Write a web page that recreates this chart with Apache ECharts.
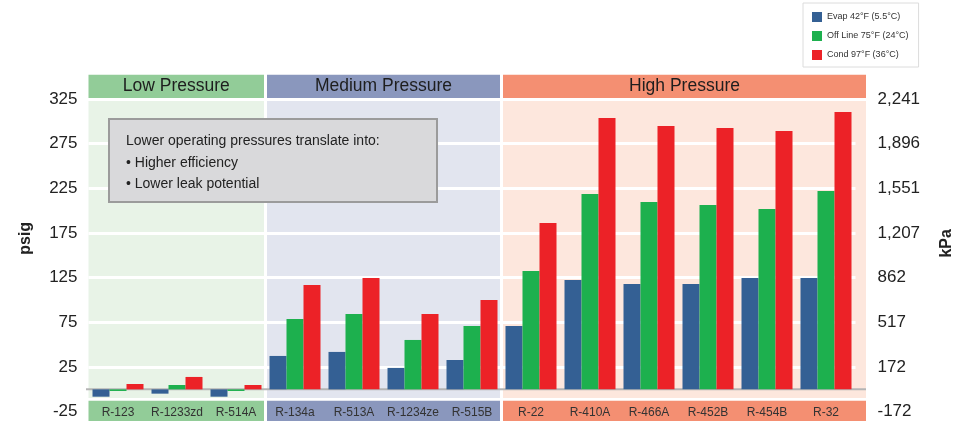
<!DOCTYPE html>
<html>
<head>
<meta charset="utf-8">
<title>Refrigerant operating pressures</title>
<script src="https://cdn.jsdelivr.net/npm/echarts@6/dist/echarts.min.js"></script>
<style>
  html, body { margin: 0; padding: 0; background: #ffffff; }
  #chart { width: 980px; height: 425px; }
</style>
</head>
<body>
<div id="chart"></div>
<script>
// Refrigerants, grouped by pressure class
const categories = ['R-123', 'R-1233zd', 'R-514A', 'R-134a', 'R-513A', 'R-1234ze', 'R-515B',
                    'R-22', 'R-410A', 'R-466A', 'R-452B', 'R-454B', 'R-32'];

// Saturation pressures, psig
const evap    = [-8.2, -4.8, -8.2, 37.4, 41.9, 24.0, 32.9, 71.0, 122.5, 118.0, 118.0, 124.7, 124.7];
const offLine = [-1.8, 4.9, -1.8, 78.8, 84.4, 55.3, 71.0, 132.5, 218.7, 209.8, 206.4, 201.9, 222.0];
const cond    = [6.0, 13.9, 4.9, 116.9, 124.7, 84.4, 100.0, 186.3, 303.8, 294.8, 292.6, 289.2, 310.5];

const seriesNames = ['Evap 42°F (5.5°C)', 'Off Line 75°F (24°C)', 'Cond 97°F (36°C)'];

// Axis ticks: psig on the left, the same levels in kPa on the right
const psigTicks = [-25, 25, 75, 125, 175, 225, 275, 325];
const kpaTicks  = ['-172', '172', '517', '862', '1,207', '1,551', '1,896', '2,241'];

// Pressure classes (first and last category index)
const groupNames = ['Low Pressure', 'Medium Pressure', 'High Pressure'];
const groupFrom  = [0, 3, 7];
const groupTo    = [2, 6, 12];

const noteLines = ['Lower operating pressures translate into:', '• Higher efficiency', '• Lower leak potential'];

// Styling
const barColors    = ['#346094', '#1db04e', '#ec2227'];
const headerColors = ['#92cc98', '#8a97bd', '#f48f72'];
const bodyColors   = ['#e8f3e7', '#e2e5ef', '#fde7dd'];
const FONT = 'Liberation Sans, Arial, Helvetica, sans-serif';

const chart = echarts.init(document.getElementById('chart'), null, { renderer: 'canvas' });

const makeSeries = (name, data, color) => ({
  name: name,
  type: 'bar',
  data: data,
  barWidth: 17,
  barGap: '0%',
  itemStyle: { color: color },
  z: 2
});

const option = {
  animation: false,
  backgroundColor: '#ffffff',
  textStyle: { fontFamily: FONT },
  legend: {
    orient: 'vertical',
    left: 803,
    top: 3,
    padding: [9, 10, 7, 9],
    itemWidth: 10,
    itemHeight: 10,
    itemGap: 9,
    icon: 'rect',
    backgroundColor: '#ffffff',
    borderColor: '#dcdcdc',
    borderWidth: 1,
    textStyle: { fontSize: 9, color: '#333333', fontFamily: FONT },
    data: seriesNames
  },
  grid: { left: 88.5, right: 124.5, top: 99, bottom: 13.3, containLabel: false },
  xAxis: {
    type: 'category',
    data: categories,
    z: 5,
    axisLine: { show: false, onZero: false },
    axisTick: { show: false },
    axisLabel: {
      margin: 0.5,
      verticalAlign: 'middle',
      fontSize: 12,
      color: '#333333',
      fontFamily: FONT,
      interval: 0
    },
    splitLine: { show: false }
  },
  yAxis: [
    {
      type: 'value',
      min: psigTicks[0],
      max: psigTicks[psigTicks.length - 1],
      interval: 50,
      name: 'psig',
      nameLocation: 'middle',
      nameRotate: 90,
      nameGap: 55,
      nameTextStyle: { fontSize: 16, fontWeight: 'bold', color: '#222222', fontFamily: FONT, padding: [0, 0, 0, 34] },
      axisLine: { show: false },
      axisTick: { show: false },
      axisLabel: { fontSize: 17, color: '#222222', margin: 11, fontFamily: FONT },
      splitLine: { show: true, lineStyle: { color: '#ffffff', width: 3 } }
    },
    {
      type: 'value',
      min: psigTicks[0],
      max: psigTicks[psigTicks.length - 1],
      interval: 50,
      position: 'right',
      name: 'kPa',
      nameLocation: 'middle',
      nameRotate: 90,
      nameGap: 83,
      nameTextStyle: { fontSize: 16, fontWeight: 'bold', color: '#222222', fontFamily: FONT, padding: [0, 0, 0, 24] },
      axisLine: { show: false },
      axisTick: { show: false },
      axisLabel: {
        fontSize: 17,
        color: '#222222',
        margin: 22,
        fontFamily: FONT,
        formatter: v => kpaTicks[psigTicks.indexOf(v)]
      },
      splitLine: { show: false }
    }
  ],
  series: [
    makeSeries(seriesNames[0], evap, barColors[0]),
    makeSeries(seriesNames[1], offLine, barColors[1]),
    makeSeries(seriesNames[2], cond, barColors[2])
  ]
};

chart.setOption(option);

// Section backgrounds, header strips, category strips and the zero line,
// placed from the axes' own scale.
const pt = (i, v) => chart.convertToPixel({ gridIndex: 0 }, [i, v]);
const half = (pt(1, 0)[0] - pt(0, 0)[0]) / 2;
const yTop = pt(0, psigTicks[psigTicks.length - 1])[1];
const yBot = pt(0, psigTicks[0])[1];
const yZero = pt(0, 0)[1];

const graphics = [];
let lastRight = 0;
for (let g = 0; g < groupNames.length; g++) {
  let x0 = pt(groupFrom[g], 0)[0] - half;
  let x1 = pt(groupTo[g], 0)[0] + half;
  if (g > 0) x0 += 1.5;
  if (g < groupNames.length - 1) x1 -= 1.5; else x1 += 10.5;
  lastRight = x1;
  const w = x1 - x0;
  // section body
  graphics.push({
    type: 'rect', z: -1, silent: true,
    shape: { x: x0, y: yTop + 2, width: w, height: (yBot - 13.7) - (yTop + 2) },
    style: { fill: bodyColors[g] }
  });
  // header strip
  graphics.push({
    type: 'rect', z: 1, silent: true,
    shape: { x: x0, y: yTop - 24.3, width: w, height: 23.3 },
    style: { fill: headerColors[g] }
  });
  graphics.push({
    type: 'text', z: 3, silent: true,
    x: x0 + w / 2, y: yTop - 12.4,
    style: {
      text: groupNames[g], fill: '#1e1e1e', fontSize: 17.5, fontFamily: FONT,
      align: 'center', verticalAlign: 'middle'
    }
  });
  // category strip
  graphics.push({
    type: 'rect', z: 1, silent: true,
    shape: { x: x0, y: yBot - 11, width: w, height: 20.3 },
    style: { fill: headerColors[g] }
  });
}

// zero line
graphics.push({
  type: 'line', z: 1, silent: true,
  shape: { x1: pt(0, 0)[0] - half - 2.5, y1: yZero, x2: lastRight, y2: yZero },
  style: { stroke: '#b4b4b4', lineWidth: 2 }
});

// note box
graphics.push({
  type: 'rect', z: 6, silent: true,
  shape: { x: 109, y: 119, width: 328, height: 83 },
  style: { fill: '#d9d9db', stroke: '#9b9b9b', lineWidth: 2 }
});
noteLines.forEach((line, i) => {
  graphics.push({
    type: 'text', z: 7, silent: true,
    x: 126, y: 141.5 + i * 21.3,
    style: {
      text: line, fill: '#222222', fontSize: 14, fontFamily: FONT,
      align: 'left', verticalAlign: 'middle'
    }
  });
});

chart.setOption({ graphic: { elements: graphics } });
</script>
</body>
</html>
